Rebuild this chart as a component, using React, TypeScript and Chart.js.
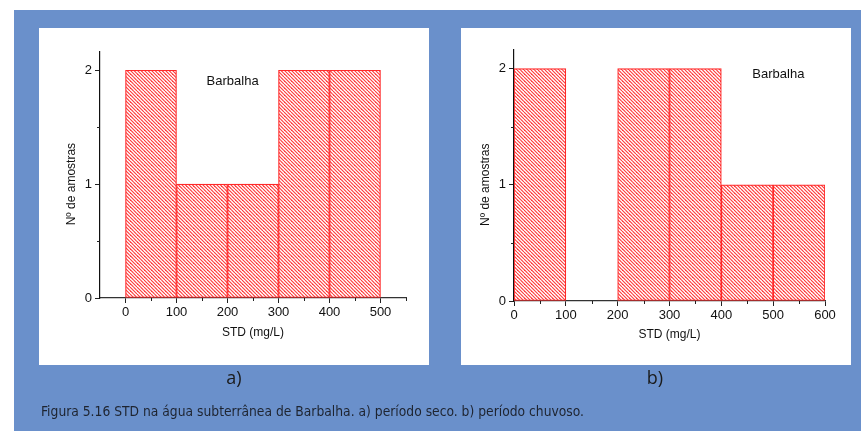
import React, { useEffect, useRef } from "react";
import { Chart, registerables } from "chart.js";

Chart.register(...registerables);

// ---- data ----
const binWidth = 100;
const binStartsA = [0, 100, 200, 300, 400];
const countsA = [2, 1, 1, 2, 2];
const binStartsB = [0, 200, 300, 400, 500];
const countsB = [2, 2, 2, 1, 1];

const xMajorA = [0, 100, 200, 300, 400, 500];
const xMinorA = [50, 150, 250, 350, 450, 550];
const xMajorB = [0, 100, 200, 300, 400, 500, 600];
const xMinorB = [50, 150, 250, 350, 450, 550];
const yMajor = [0, 1, 2];
const yMinor = [0.5, 1.5];

const xRangeA = [-50, 550];
const xRangeB = [0, 600];
const yMax = 2.16;

const seriesLabel = "Barbalha";
const labelAtA = [210, 1.9];
const labelAtB = [510, 1.95];

const xTitle = "STD (mg/L)";
const yTitle = "Nº de amostras";
const caption =
  "Figura 5.16 STD na água subterrânea de Barbalha. a) período seco. b) período chuvoso.";

const FONT = '"Liberation Sans", Arial, sans-serif';

function makeHatch(): CanvasPattern | string {
  const s = 7;
  const c = document.createElement("canvas");
  c.width = s;
  c.height = s;
  const g = c.getContext("2d");
  if (!g) return "rgba(255,0,0,0.4)";
  g.fillStyle = "#ffffff";
  g.fillRect(0, 0, s, s);
  g.strokeStyle = "rgb(255,55,55)";
  g.lineWidth = 1.1;
  for (const off of [-s, -s / 2, 0, s / 2, s]) {
    g.beginPath();
    g.moveTo(off, 0);
    g.lineTo(off + s, s);
    g.stroke();
  }
  return g.createPattern(c, "repeat") || "rgba(255,0,0,0.4)";
}

const extrasPlugin = {
  id: "extras",
  afterDraw(chart: any, _args: any, opts: any) {
    const { ctx } = chart;
    const x = chart.scales.x;
    const y = chart.scales.y;
    ctx.save();
    ctx.strokeStyle = "#222";
    ctx.lineWidth = 1;
    for (const v of opts.xMinor) {
      const px = Math.round(x.getPixelForValue(v)) + 0.5;
      ctx.beginPath();
      ctx.moveTo(px, x.top);
      ctx.lineTo(px, x.top + 3);
      ctx.stroke();
    }
    for (const v of opts.yMinor) {
      const py = Math.round(y.getPixelForValue(v)) + 0.5;
      ctx.beginPath();
      ctx.moveTo(y.right, py);
      ctx.lineTo(y.right - 3, py);
      ctx.stroke();
    }
    // series label
    ctx.fillStyle = "#111";
    ctx.font = `13px ${FONT}`;
    ctx.textAlign = "center";
    ctx.textBaseline = "middle";
    ctx.fillText(
      opts.label,
      x.getPixelForValue(opts.labelAt[0]),
      y.getPixelForValue(opts.labelAt[1])
    );
    // y title
    ctx.font = `12px ${FONT}`;
    ctx.translate(y.right - 28.5, y.getPixelForValue(1));
    ctx.rotate(-Math.PI / 2);
    ctx.fillText(opts.yTitle, 0, 0);
    ctx.restore();
  },
};

type PanelCfg = {
  starts: number[];
  counts: number[];
  xMajor: number[];
  xMinor: number[];
  xRange: number[];
  labelAt: number[];
  pad: { top: number; right: number };
  yWidth: number;
  xHeight: number;
  xTitlePad: number;
};

function HistPanel({ cfg, left }: { cfg: PanelCfg; left: number }) {
  const ref = useRef<HTMLCanvasElement>(null);
  useEffect(() => {
    const hatch = makeHatch();
    const chart = new Chart(ref.current as HTMLCanvasElement, {
      type: "bar",
      data: {
        datasets: [
          {
            data: cfg.starts.map((s, i) => ({ x: s + binWidth / 2, y: cfg.counts[i] })),
            backgroundColor: hatch as any,
            borderColor: "rgb(255,40,40)",
            borderWidth: 1.2,
            borderSkipped: false,
            barPercentage: 1,
            categoryPercentage: 1,
          } as any,
        ],
      },
      options: {
        responsive: false,
        animation: false,
        devicePixelRatio: 1,
        layout: { padding: { left: 0, top: cfg.pad.top, right: cfg.pad.right, bottom: 0 } },
        plugins: {
          legend: { display: false },
          tooltip: { enabled: false },
          extras: {
            xMinor: cfg.xMinor,
            yMinor: yMinor,
            label: seriesLabel,
            labelAt: cfg.labelAt,
            yTitle: yTitle,
          },
        } as any,
        scales: {
          x: {
            type: "linear",
            min: cfg.xRange[0],
            max: cfg.xRange[1],
            offset: false,
            grid: {
              offset: false,
              drawOnChartArea: false,
              drawTicks: true,
              tickLength: 5,
              color: "#222",
            },
            border: { display: true, color: "#333", width: 1.3 },
            ticks: {
              autoSkip: false,
              padding: 2,
              color: "#111",
              font: { family: FONT, size: 13 },
              maxRotation: 0,
              callback: (v: any) => String(v),
            },
            title: {
              display: true,
              text: xTitle,
              color: "#111",
              font: { family: FONT, size: 12 },
              padding: { top: 0, bottom: cfg.xTitlePad },
            },
            afterBuildTicks: (s: any) => {
              s.ticks = cfg.xMajor.map((v) => ({ value: v }));
            },
            afterFit: (s: any) => {
              s.height = cfg.xHeight;
            },
          } as any,
          y: {
            type: "linear",
            min: 0,
            max: yMax,
            grid: {
              drawOnChartArea: false,
              drawTicks: true,
              tickLength: 5,
              color: "#222",
            },
            border: { display: true, color: "#111", width: 1.2 },
            ticks: {
              autoSkip: false,
              padding: 3,
              color: "#111",
              font: { family: FONT, size: 13 },
              callback: (v: any) => String(v),
            },
            afterBuildTicks: (s: any) => {
              s.ticks = yMajor.map((v) => ({ value: v }));
            },
            afterFit: (s: any) => {
              s.width = cfg.yWidth;
            },
          } as any,
        },
      },
      plugins: [extrasPlugin as any],
    });
    return () => chart.destroy();
  }, []);
  return (
    <div
      style={{
        position: "absolute",
        left,
        top: 28,
        width: 390,
        height: 337,
        background: "#fff",
      }}
    >
      <canvas ref={ref} width={390} height={337} style={{ width: 390, height: 337, display: "block" }} />
    </div>
  );
}

const cfgA: PanelCfg = {
  starts: binStartsA,
  counts: countsA,
  xMajor: xMajorA,
  xMinor: xMinorA,
  xRange: xRangeA,
  labelAt: labelAtA,
  pad: { top: 24, right: 23 },
  yWidth: 61,
  xHeight: 67,
  xTitlePad: 25,
};

const cfgB: PanelCfg = {
  starts: binStartsB,
  counts: countsB,
  xMajor: xMajorB,
  xMinor: xMinorB,
  xRange: xRangeB,
  labelAt: labelAtB,
  pad: { top: 22, right: 26 },
  yWidth: 53,
  xHeight: 64,
  xTitlePad: 23,
};

export default function App() {
  return (
    <div
      style={{
        position: "fixed",
        left: 0,
        top: 0,
        width: 861,
        height: 431,
        background: "#fff",
        overflow: "hidden",
      }}
    >
      <div
        style={{
          position: "absolute",
          left: 14,
          top: 10,
          width: 847,
          height: 421,
          background: "#6a90cb",
        }}
      />
      <HistPanel cfg={cfgA} left={39} />
      <HistPanel cfg={cfgB} left={461} />
      <svg
        width={861}
        height={431}
        style={{ position: "absolute", left: 0, top: 0, pointerEvents: "none" }}
      >
        <text
          x={234}
          y={384}
          textAnchor="middle"
          fontFamily='"Open Sans", "Noto Sans", sans-serif'
          fontSize={18}
          fill="#1a1a1a"
        >
          a)
        </text>
        <text
          x={655}
          y={384}
          textAnchor="middle"
          fontFamily='"Open Sans", "Noto Sans", sans-serif'
          fontSize={18}
          fill="#1a1a1a"
        >
          b)
        </text>
        <text
          x={41}
          y={416}
          fontFamily='"Liberation Sans Narrow", "DejaVu Sans Condensed", "Open Sans", sans-serif'
          fontSize={14}
          fill="#1e2430"
          textLength={543}
          lengthAdjust="spacingAndGlyphs"
        >
          {caption}
        </text>
      </svg>
    </div>
  );
}
